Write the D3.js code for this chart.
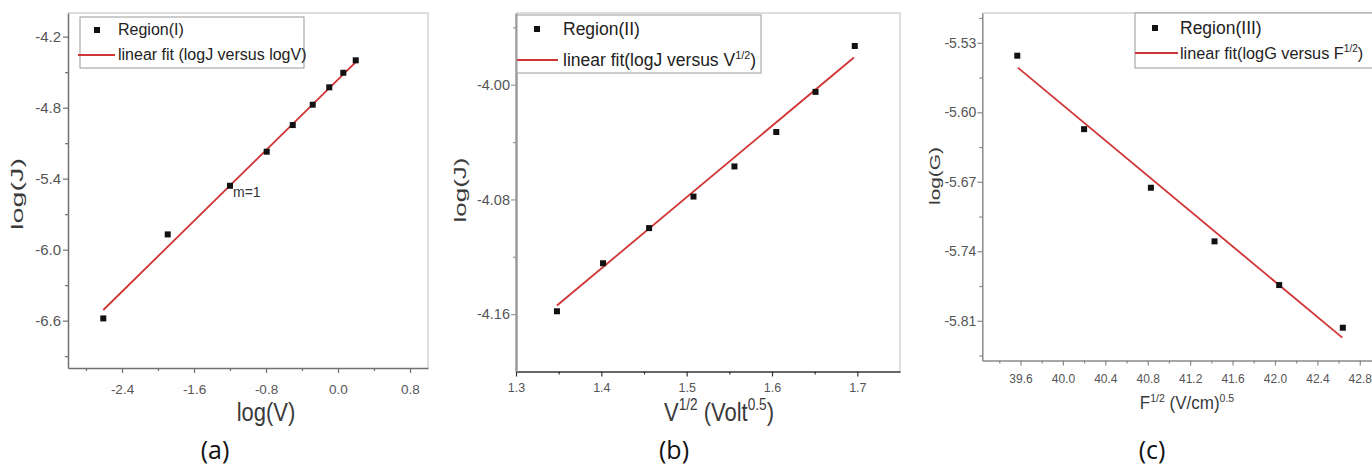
<!DOCTYPE html>
<html lang="en">
<head>
<meta charset="UTF-8">
<script src="https://cdnjs.cloudflare.com/ajax/libs/d3/7.8.5/d3.min.js"></script>
<title>Regions</title>
<style>
  body { margin: 0; background: #fff; overflow: hidden; }
  text { font-family: "Liberation Sans", Arial, sans-serif; }
</style>
</head>
<body>
<div id="content"></div>
<script>
// ---- data ----
// (a) Region I : log(J) vs log(V)
const regionI = [
  { x: -2.608, y: -6.581 }, { x: -1.892, y: -5.871 }, { x: -1.200, y: -5.460 },
  { x: -0.792, y: -5.172 }, { x: -0.503, y: -4.947 }, { x: -0.281, y: -4.775 },
  { x: -0.097, y: -4.628 }, { x: 0.059, y: -4.505 }, { x: 0.197, y: -4.400 }
];
const fitI = [{ x: -2.608, y: -6.510 }, { x: 0.208, y: -4.406 }];
const xTicksI = [-2.4, -1.6, -0.8, 0.0, 0.8];
const xMinorI = [-2.8, -2.0, -1.2, -0.4, 0.4];
const yTicksI = [-6.6, -6.0, -5.4, -4.8, -4.2];
const yMinorI = [-6.9, -6.3, -5.7, -5.1, -4.5];

// (b) Region II : log(J) vs V^1/2
const regionII = [
  { x: 1.348, y: -4.158 }, { x: 1.402, y: -4.1245 }, { x: 1.456, y: -4.100 },
  { x: 1.508, y: -4.078 }, { x: 1.556, y: -4.057 }, { x: 1.605, y: -4.033 },
  { x: 1.651, y: -4.005 }, { x: 1.697, y: -3.973 }
];
const fitII = [{ x: 1.348, y: -4.154 }, { x: 1.696, y: -3.981 }];
const xTicksII = [1.3, 1.4, 1.5, 1.6, 1.7];
const xMinorII = [1.35, 1.45, 1.55, 1.65];
const yTicksII = [-4.16, -4.08, -4.00];
const yMinorII = [-4.12, -4.04, -3.96];

// (c) Region III : log(G) vs F^1/2
const regionIII = [
  { x: 39.57, y: -5.543 }, { x: 40.20, y: -5.617 }, { x: 40.83, y: -5.676 },
  { x: 41.43, y: -5.730 }, { x: 42.04, y: -5.774 }, { x: 42.64, y: -5.817 }
];
const fitIII = [{ x: 39.575, y: -5.555 }, { x: 42.635, y: -5.827 }];
const xTicksIII = [39.6, 40.0, 40.4, 40.8, 41.2, 41.6, 42.0, 42.4, 42.8];
const xMinorIII = [39.4, 39.8, 40.2, 40.6, 41.0, 41.4, 41.8, 42.2, 42.6, 43.0];
const yTicksIII = [-5.81, -5.74, -5.67, -5.60, -5.53];
const yMinorIII = [-5.845, -5.775, -5.705, -5.635, -5.565, -5.505];

// ---- layout ----
const panels = [
  {
    data: regionI, fit: fitI, xd: [-3.0, 1.0], yd: [-7.0, -4.0],
    left: 68, right: 428, top: 13, bottom: 368,
    xT: xTicksI, xM: xMinorI, yT: yTicksI, yM: yMinorI, xf: 1, yf: 1,
    leftColor: '#707070', leftW: 1.5, bottomColor: '#707070',
    xFont: 13.5, yFont: 15, xPad: 11, yPad: 2,
    legend: { x: 80, y: 17, w: 224, h: 51, r1: 30, r2: 55, mx: 97, l0: 78, l1: 115, tx: 118, fs: 16, fs2: 16,
      label1: [['Region(I)']], label2: [['linear fit (logJ versus logV)']] },
    xTitle: { parts: [['log(V)']], cx: 266, base: 421, fs: 22, sy: 1.2 },
    yTitle: { parts: [['log(J)']], cx: 17, cy: 194, fs: 17, len: 72 },
    note: { x: -1.2, y: -5.46, dx: 3, dy: 11, text: 'm=1' },
    caption: { text: '(a)', cx: 215 }
  },
  {
    data: regionII, fit: fitII, xd: [1.3, 1.75], yd: [-4.20, -3.95],
    left: 516, right: 900, top: 13, bottom: 371.5,
    xT: xTicksII, xM: xMinorII, yT: yTicksII, yM: yMinorII, xf: 1, yf: 2,
    leftColor: '#9a9a9a', leftW: 2.5, bottomColor: '#333',
    xFont: 12.5, yFont: 14.5, xPad: 6.5, yPad: 1,
    legend: { x: 517, y: 15, w: 244, h: 58, r1: 29, r2: 60, mx: 537, l0: 517, l1: 558, tx: 563, fs: 17.5, fs2: 17.5,
      label1: [['Region(II)']], label2: [['linear fit(logJ versus V'], ['1/2', true], [')']] },
    xTitle: { parts: [['V'], ['1/2', true], [' (Volt'], ['0.5', true], [')']], cx: 719, base: 421, fs: 22, sy: 1.2 },
    yTitle: { parts: [['log(J)']], cx: 460, cy: 190, fs: 17, len: 65 },
    caption: { text: '(b)', cx: 674 }
  },
  {
    data: regionIII, fit: fitIII, xd: [39.24, 43.0], yd: [-5.85, -5.50],
    left: 982.3, right: 1381, top: 13, bottom: 360.5,
    xT: xTicksIII, xM: xMinorIII, yT: yTicksIII, yM: yMinorIII, xf: 1, yf: 2,
    leftColor: '#8a8a8a', leftW: 1.5, bottomColor: '#8a8a8a',
    xFont: 12, yFont: 14, xPad: 9, yPad: 1,
    legend: { x: 1135, y: 13, w: 270, h: 55, r1: 28, r2: 53, mx: 1155, l0: 1135, l1: 1178, tx: 1180, fs: 17.5, fs2: 16.3,
      label1: [['Region(III)']], label2: [['linear fit(logG versus F'], ['1/2', true], [')']] },
    xTitle: { parts: [['F'], ['1/2', true], [' (V/cm)'], ['0.5', true]], cx: 1187, base: 409, fs: 17, sy: 1.05 },
    yTitle: { parts: [['log(G)']], cx: 935, cy: 176, fs: 14.5, len: 58 },
    caption: { text: '(c)', cx: 1152 }
  }
];

const svg = d3.select('#content').append('svg')
  .attr('width', 1372)
  .attr('height', 466);

// text with superscripts
function rich(t, parts, fs) {
  let prevSup = false;
  parts.forEach(([s, sup]) => {
    const ts = t.append('tspan').text(s);
    if (sup) ts.attr('font-size', fs * 0.62).attr('dy', prevSup ? 0 : -fs * 0.42);
    else {
      ts.attr('font-size', fs);
      if (prevSup) ts.attr('dy', fs * 0.42);
    }
    prevSup = !!sup;
  });
}

panels.forEach(p => {
  const x = d3.scaleLinear().domain(p.xd).range([p.left, p.right]);
  const y = d3.scaleLinear().domain(p.yd).range([p.bottom, p.top]);
  const g = svg.append('g');

  // light frame top/right
  g.append('path')
    .attr('d', `M${p.left},${p.top}H${p.right}V${p.bottom}`)
    .attr('fill', 'none')
    .attr('stroke', '#d2d2d2')
    .attr('stroke-width', 1.5);

  // fit line
  g.append('path')
    .datum(p.fit)
    .attr('d', d3.line().x(d => x(d.x)).y(d => y(d.y)))
    .attr('fill', 'none')
    .attr('stroke', '#d03434')
    .attr('stroke-width', 1.8);

  // points
  g.selectAll('rect.pt')
    .data(p.data)
    .enter()
    .append('rect')
    .attr('class', 'pt')
    .attr('x', d => x(d.x) - 3)
    .attr('y', d => y(d.y) - 3)
    .attr('width', 6)
    .attr('height', 6)
    .attr('fill', '#111');

  //-Axis X
  const gx = g.append('g')
    .attr('transform', `translate(0,${p.bottom})`)
    .call(d3.axisBottom(x).tickValues(p.xT).tickFormat(d => d.toFixed(p.xf))
      .tickSize(5).tickSizeOuter(0).tickPadding(p.xPad));
  gx.select('.domain').attr('stroke', p.bottomColor).attr('stroke-width', 1.5);
  gx.selectAll('line').attr('stroke', p.bottomColor).attr('stroke-width', 1.2);
  gx.selectAll('text').attr('fill', '#555').style('font-size', p.xFont + 'px');
  const gxm = g.append('g')
    .attr('transform', `translate(0,${p.bottom})`)
    .call(d3.axisBottom(x).tickValues(p.xM).tickFormat('').tickSize(3).tickSizeOuter(0));
  gxm.select('.domain').remove();
  gxm.selectAll('line').attr('stroke', p.bottomColor).attr('stroke-width', 1.2);

  //-Axis Y
  const gy = g.append('g')
    .attr('transform', `translate(${p.left},0)`)
    .call(d3.axisLeft(y).tickValues(p.yT).tickFormat(d => d.toFixed(p.yf))
      .tickSize(5).tickSizeOuter(0).tickPadding(p.yPad));
  gy.select('.domain').attr('stroke', p.leftColor).attr('stroke-width', p.leftW);
  gy.selectAll('line').attr('stroke', p.leftColor).attr('stroke-width', 1.2);
  gy.selectAll('text').attr('fill', '#555').style('font-size', p.yFont + 'px');
  const gym = g.append('g')
    .attr('transform', `translate(${p.left},0)`)
    .call(d3.axisLeft(y).tickValues(p.yM).tickFormat('').tickSize(3).tickSizeOuter(0));
  gym.select('.domain').remove();
  gym.selectAll('line').attr('stroke', p.leftColor).attr('stroke-width', 1.2);

  //-Legend
  const L = p.legend;
  const lg = g.append('g');
  lg.append('rect')
    .attr('x', L.x).attr('y', L.y).attr('width', L.w).attr('height', L.h)
    .attr('fill', '#fff').attr('stroke', '#9a9a9a').attr('stroke-width', 1);
  lg.append('rect')
    .attr('x', L.mx - 3).attr('y', L.r1 - 3).attr('width', 6).attr('height', 6)
    .attr('fill', '#111');
  lg.append('line')
    .attr('x1', L.l0).attr('x2', L.l1).attr('y1', L.r2).attr('y2', L.r2)
    .attr('stroke', '#d03434').attr('stroke-width', 1.8);
  const t1 = lg.append('text').attr('x', L.tx).attr('y', L.r1 + L.fs * 0.34).attr('fill', '#222');
  rich(t1, L.label1, L.fs);
  const t2 = lg.append('text').attr('x', L.tx).attr('y', L.r2 + L.fs2 * 0.34).attr('fill', '#222');
  rich(t2, L.label2, L.fs2);

  //-Titles
  const xt = g.append('text')
    .attr('transform', `translate(${p.xTitle.cx},${p.xTitle.base}) scale(1,${p.xTitle.sy})`)
    .attr('text-anchor', 'middle')
    .attr('fill', '#3a3a3a');
  rich(xt, p.xTitle.parts, p.xTitle.fs);

  const yt = g.append('text')
    .attr('transform', `translate(${p.yTitle.cx},${p.yTitle.cy}) rotate(-90)`)
    .attr('text-anchor', 'middle')
    .attr('dominant-baseline', 'central')
    .attr('textLength', p.yTitle.len)
    .attr('lengthAdjust', 'spacingAndGlyphs')
    .attr('fill', '#3a3a3a');
  rich(yt, p.yTitle.parts, p.yTitle.fs);

  if (p.note) {
    g.append('text')
      .attr('x', x(p.note.x) + p.note.dx)
      .attr('y', y(p.note.y) + p.note.dy)
      .attr('fill', '#333')
      .style('font-size', '14px')
      .text(p.note.text);
  }

  //-Caption
  svg.append('text')
    .attr('x', p.caption.cx)
    .attr('y', 459)
    .attr('text-anchor', 'middle')
    .style('font-family', '"Open Sans", sans-serif')
    .style('font-size', '25px')
    .attr('fill', '#111')
    .text(p.caption.text);
});
</script>
</body>
</html>
